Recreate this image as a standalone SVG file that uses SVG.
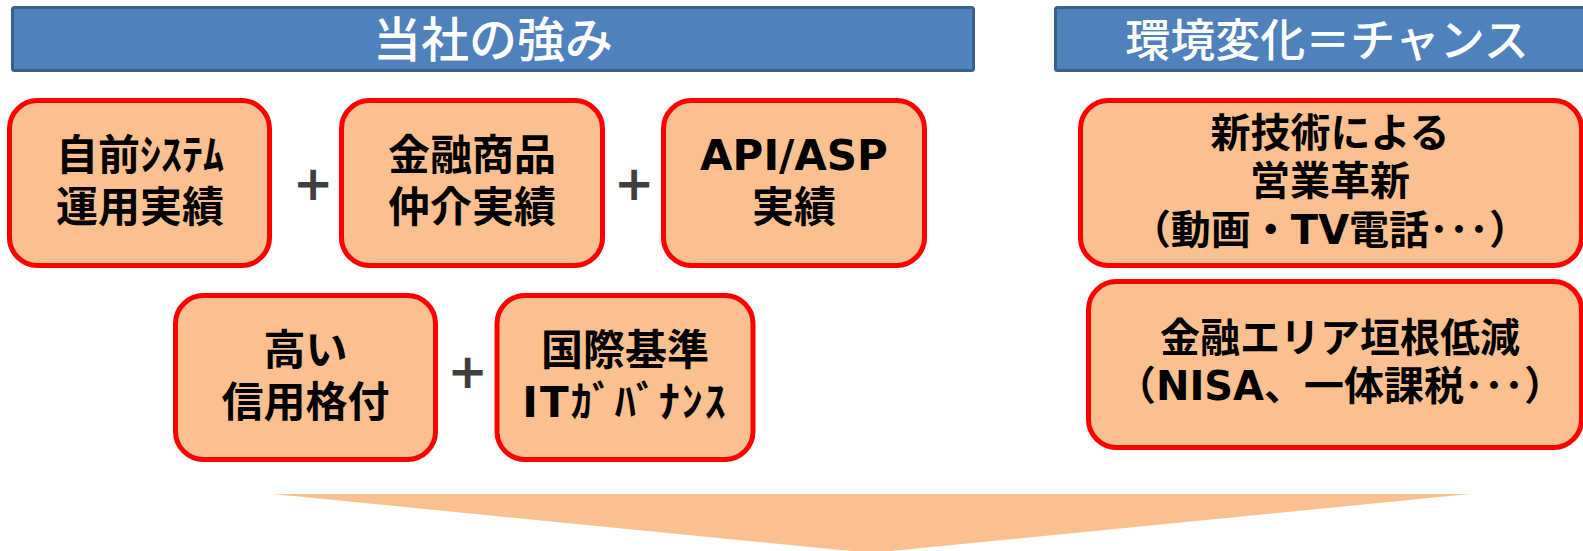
<svg xmlns="http://www.w3.org/2000/svg" width="1583" height="551" viewBox="0 0 1583 551">
  <style>
    .hdr { fill: #4F81BD; stroke: #3A5F8C; stroke-width: 3; }
    .hdrtext { font-family: "Noto Sans CJK JP", sans-serif; font-weight: 500; fill: #FFFFFF; text-anchor: middle; }
    .box { fill: #FAC090; stroke: #FF0000; stroke-width: 5; }
    .txt { font-family: "DejaVu Sans", "Noto Sans CJK JP", sans-serif; font-weight: bold; fill: #000000; text-anchor: middle; font-size: 42px; }
    .txt40 { font-size: 40px; }
    .plus { font-family: "DejaVu Sans", sans-serif; font-weight: bold; fill: #3F3F3F; text-anchor: middle; font-size: 48px; }
    .arrow { fill: #FAC090; }
  </style>

  <g id="header-strengths">
    <rect class="hdr" x="12.5" y="7.5" width="961" height="63" rx="2"/>
    <text class="hdrtext" x="493" y="57" font-size="48">当社の強み</text>
  </g>
  <g id="header-chance">
    <rect class="hdr" x="1055.5" y="7.5" width="560" height="63" rx="2"/>
    <text class="hdrtext" x="1327" y="57" font-size="45">環境変化＝チャンス</text>
  </g>

  <g id="box-system">
    <rect class="box" x="9.5" y="100.5" width="260" height="165" rx="28"/>
    <text class="txt" x="140" y="170">自前ｼｽﾃﾑ</text>
    <text class="txt" x="140" y="222">運用実績</text>
  </g>
  <g id="box-brokerage">
    <rect class="box" x="341.5" y="100.5" width="261" height="165" rx="28"/>
    <text class="txt" x="472" y="170">金融商品</text>
    <text class="txt" x="472" y="222">仲介実績</text>
  </g>
  <g id="box-api">
    <rect class="box" x="663.5" y="100.5" width="261" height="165" rx="28"/>
    <text class="txt" x="794" y="170" font-size="44">API/ASP</text>
    <text class="txt" x="794" y="222">実績</text>
  </g>
  <g id="box-rating">
    <rect class="box" x="175.5" y="295.5" width="260" height="164" rx="28"/>
    <text class="txt" x="305.5" y="365">高い</text>
    <text class="txt" x="305.5" y="417">信用格付</text>
  </g>
  <g id="box-governance">
    <rect class="box" x="497" y="295.5" width="256" height="164" rx="28"/>
    <text class="txt" x="625" y="365">国際基準</text>
    <text class="txt" x="625" y="417" font-family="Noto Sans CJK JP, sans-serif" letter-spacing="2">ITｶﾞﾊﾞﾅﾝｽ</text>
  </g>

  <g id="box-newtech">
    <rect class="box" x="1080.5" y="100.5" width="501" height="165" rx="28"/>
    <text class="txt txt40" x="1330" y="147">新技術による</text>
    <text class="txt txt40" x="1330" y="195">営業革新</text>
    <text class="txt txt40" x="1330" y="244">（動画・TV電話･･･）</text>
  </g>
  <g id="box-barrier">
    <rect class="box" x="1088.5" y="281.5" width="493" height="166" rx="28"/>
    <text class="txt txt40" x="1340" y="352">金融エリア垣根低減</text>
    <text class="txt txt40" x="1340" y="400">（NISA、一体課税･･･）</text>
  </g>

  <g id="connectors">
    <text class="plus" x="313" y="200">+</text>
    <text class="plus" x="634" y="200">+</text>
    <text class="plus" x="467.5" y="388">+</text>
    <polygon class="arrow" points="273,494 1470,494 871,553"/>
  </g>
</svg>
